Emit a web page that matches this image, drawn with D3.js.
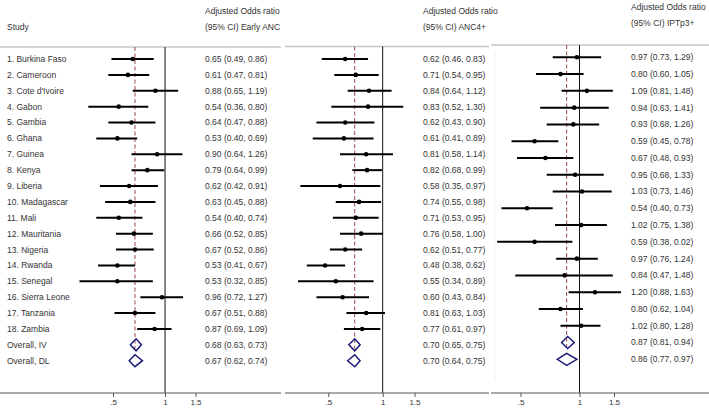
<!DOCTYPE html>
<html>
<head>
<meta charset="utf-8">
<script src="https://cdn.jsdelivr.net/npm/d3@7"></script>
<style>
  body { margin: 0; background: #fff; }
  svg text { font-family: "Liberation Sans", Arial, sans-serif; fill: #333; }
</style>
</head>
<body>
<div id="chart"></div>
<script>
// study labels (rows of the first two panels)
const studies = ["1. Burkina Faso", "2. Cameroon", "3. Cote d'Ivoire", "4. Gabon", "5. Gambia",
  "6. Ghana", "7. Guinea", "8. Kenya", "9. Liberia", "10. Madagascar", "11. Mali",
  "12. Mauritania", "13. Nigeria", "14. Rwanda", "15. Senegal", "16. Sierra Leone",
  "17. Tanzania", "18. Zambia", "Overall, IV", "Overall, DL"];

// Early ANC
const ancEst = [0.65, 0.61, 0.88, 0.54, 0.64, 0.53, 0.90, 0.79, 0.62, 0.63, 0.54, 0.66, 0.67, 0.53, 0.53, 0.96, 0.67, 0.87, 0.68, 0.67];
const ancLo  = [0.49, 0.47, 0.65, 0.36, 0.47, 0.40, 0.64, 0.64, 0.42, 0.45, 0.40, 0.52, 0.52, 0.41, 0.32, 0.72, 0.51, 0.69, 0.63, 0.62];
const ancHi  = [0.86, 0.81, 1.19, 0.80, 0.88, 0.69, 1.26, 0.99, 0.91, 0.88, 0.74, 0.85, 0.86, 0.67, 0.85, 1.27, 0.88, 1.09, 0.73, 0.74];

// ANC4+
const anc4Est = [0.62, 0.71, 0.84, 0.83, 0.62, 0.61, 0.81, 0.82, 0.58, 0.74, 0.71, 0.76, 0.62, 0.48, 0.55, 0.60, 0.81, 0.77, 0.70, 0.70];
const anc4Lo  = [0.46, 0.54, 0.64, 0.52, 0.43, 0.41, 0.58, 0.68, 0.35, 0.55, 0.53, 0.58, 0.51, 0.38, 0.34, 0.43, 0.63, 0.61, 0.65, 0.64];
const anc4Hi  = [0.83, 0.95, 1.12, 1.30, 0.90, 0.89, 1.14, 0.99, 0.97, 0.98, 0.95, 1.00, 0.77, 0.62, 0.89, 0.84, 1.03, 0.97, 0.75, 0.75];

// IPTp3+ (17 studies + 2 pooled rows)
const iptEst = [0.97, 0.80, 1.09, 0.94, 0.93, 0.59, 0.67, 0.95, 1.03, 0.54, 1.02, 0.59, 0.97, 0.84, 1.20, 0.80, 1.02, 0.87, 0.86];
const iptLo  = [0.73, 0.60, 0.81, 0.63, 0.68, 0.45, 0.48, 0.68, 0.73, 0.40, 0.75, 0.38, 0.76, 0.47, 0.88, 0.62, 0.80, 0.81, 0.77];
const iptHi  = [1.29, 1.05, 1.48, 1.41, 1.26, 0.78, 0.93, 1.33, 1.46, 0.73, 1.38, 0.92, 1.24, 1.48, 1.63, 1.04, 1.28, 0.94, 0.97];
// printed labels (row 12 upper bound is printed as 0.02 in the source)
const iptText = ["0.97 (0.73, 1.29)", "0.80 (0.60, 1.05)", "1.09 (0.81, 1.48)", "0.94 (0.63, 1.41)",
  "0.93 (0.68, 1.26)", "0.59 (0.45, 0.78)", "0.67 (0.48, 0.93)", "0.95 (0.68, 1.33)",
  "1.03 (0.73, 1.46)", "0.54 (0.40, 0.73)", "1.02 (0.75, 1.38)", "0.59 (0.38, 0.02)",
  "0.97 (0.76, 1.24)", "0.84 (0.47, 1.48)", "1.20 (0.88, 1.63)", "0.80 (0.62, 1.04)",
  "1.02 (0.80, 1.28)", "0.87 (0.81, 0.94)", "0.86 (0.77, 0.97)"];

const tickVals = [0.5, 1, 1.5];
const tickText = [".5", "1", "1.5"];

const width = 709, height = 412;
const fmt = d3.format(".2f");
const label = (e, l, h) => fmt(e) + " (" + fmt(l) + ", " + fmt(h) + ")";

const svg = d3.select("#chart").append("svg")
    .attr("width", width)
    .attr("height", height);

svg.append("rect").attr("width", width).attr("height", height).attr("fill", "#fff");

function forestPanel(p) {
  const n = p.est.length;
  const rows = d3.range(n).map(i => ({
    est: p.est[i], lo: p.lo[i], hi: p.hi[i],
    text: p.text ? p.text[i] : label(p.est[i], p.lo[i], p.hi[i]),
    pooled: i >= n - 2
  }));

  const x = d3.scaleLog().domain([0.5, 1.5]).range(p.xr);
  const y = d3.scaleLinear().domain([0, n - 1]).range(p.yr);
  const g = svg.append("g");

  // header
  g.append("text").attr("x", p.textX).attr("y", p.headY).attr("dy", "0.35em")
      .style("font-size", "8.5px").text("Adjusted Odds ratio");
  g.append("text").attr("x", p.textX).attr("y", p.headY + 16.5).attr("dy", "0.35em")
      .style("font-size", "8.5px").text("(95% CI) " + p.outcome);
  g.append("line")
      .attr("x1", p.left).attr("x2", p.right)
      .attr("y1", p.sepY).attr("y2", p.sepY)
      .attr("stroke", "#c8c8c8").attr("stroke-width", 1.5);

  const axisY = 393;

  // null line
  g.append("line")
      .attr("x1", x(1)).attr("x2", x(1))
      .attr("y1", p.sepY).attr("y2", axisY)
      .attr("stroke", "#111").attr("stroke-width", 1);

  // overall effect line
  const ov = rows[n - 1];
  g.append("line")
      .attr("x1", x(ov.est)).attr("x2", x(ov.est))
      .attr("y1", p.sepY).attr("y2", y(n - 2) + 4)
      .attr("stroke", "#9a4848").attr("stroke-width", 1)
      .attr("stroke-dasharray", "4,2.5");

  const studyRows = rows.filter(d => !d.pooled);

  g.selectAll(".ci").data(studyRows).enter().append("line")
      .attr("class", "ci")
      .attr("x1", d => x(d.lo)).attr("x2", d => x(d.hi))
      .attr("y1", (d, i) => y(i)).attr("y2", (d, i) => y(i))
      .attr("stroke", "#000").attr("stroke-width", 2);

  g.selectAll(".pt").data(studyRows).enter().append("circle")
      .attr("class", "pt")
      .attr("cx", d => x(d.est)).attr("cy", (d, i) => y(i))
      .attr("r", 2.3).attr("fill", "#000");

  g.selectAll(".dia").data(rows.slice(n - 2)).enter().append("path")
      .attr("class", "dia")
      .attr("d", (d, i) => {
        const cy = y(n - 2 + i);
        return "M" + x(d.lo) + "," + cy + "L" + x(d.est) + "," + (cy - 6) +
          "L" + x(d.hi) + "," + cy + "L" + x(d.est) + "," + (cy + 6) + "Z";
      })
      .attr("fill", "none").attr("stroke", "#1c1c78").attr("stroke-width", 1.5);

  g.selectAll(".val").data(rows).enter().append("text")
      .attr("class", "val")
      .attr("x", p.textX).attr("y", (d, i) => y(i)).attr("dy", "0.35em")
      .style("font-size", "8.5px")
      .text(d => d.text);

  // x axis
  g.append("line")
      .attr("x1", p.left).attr("x2", p.right)
      .attr("y1", axisY).attr("y2", axisY)
      .attr("stroke", "#555").attr("stroke-width", 1);

  const ax = g.append("g")
      .attr("transform", "translate(0," + axisY + ")")
      .call(d3.axisBottom(x).tickValues(tickVals)
        .tickFormat((d, i) => tickText[i]).tickSize(4).tickSizeOuter(0));
  ax.select(".domain").remove();
  ax.selectAll("line").attr("stroke", "#555");
  ax.selectAll("text").style("font-size", "8px").attr("fill", "#333").attr("dy", "0.6em");

  return y;
}

const yStudy = forestPanel({
  est: ancEst, lo: ancLo, hi: ancHi, outcome: "Early ANC",
  xr: [113, 195.5], yr: [59, 360.7], textX: 205, headY: 11, sepY: 47, left: 0, right: 281
});

svg.append("text").attr("x", 7).attr("y", 27).attr("dy", "0.35em")
    .style("font-size", "8.5px").text("Study");

svg.selectAll(".study").data(studies).enter().append("text")
    .attr("class", "study")
    .attr("x", 7).attr("y", (d, i) => yStudy(i)).attr("dy", "0.35em")
    .style("font-size", "8.5px")
    .text(d => d);

forestPanel({
  est: anc4Est, lo: anc4Lo, hi: anc4Hi, outcome: "ANC4+",
  xr: [328.3, 414.5], yr: [59, 360.7], textX: 423, headY: 11, sepY: 46.5, left: 285, right: 489
});

svg.append("line")
    .attr("x1", 495).attr("x2", 495).attr("y1", 52).attr("y2", 380)
    .attr("stroke", "#f0f0f0").attr("stroke-width", 1);

forestPanel({
  est: iptEst, lo: iptLo, hi: iptHi, text: iptText, outcome: "IPTp3+",
  xr: [520.5, 614], yr: [57.3, 359.3], textX: 631, headY: 7, sepY: 45, left: 491, right: 709
});
</script>
</body>
</html>
